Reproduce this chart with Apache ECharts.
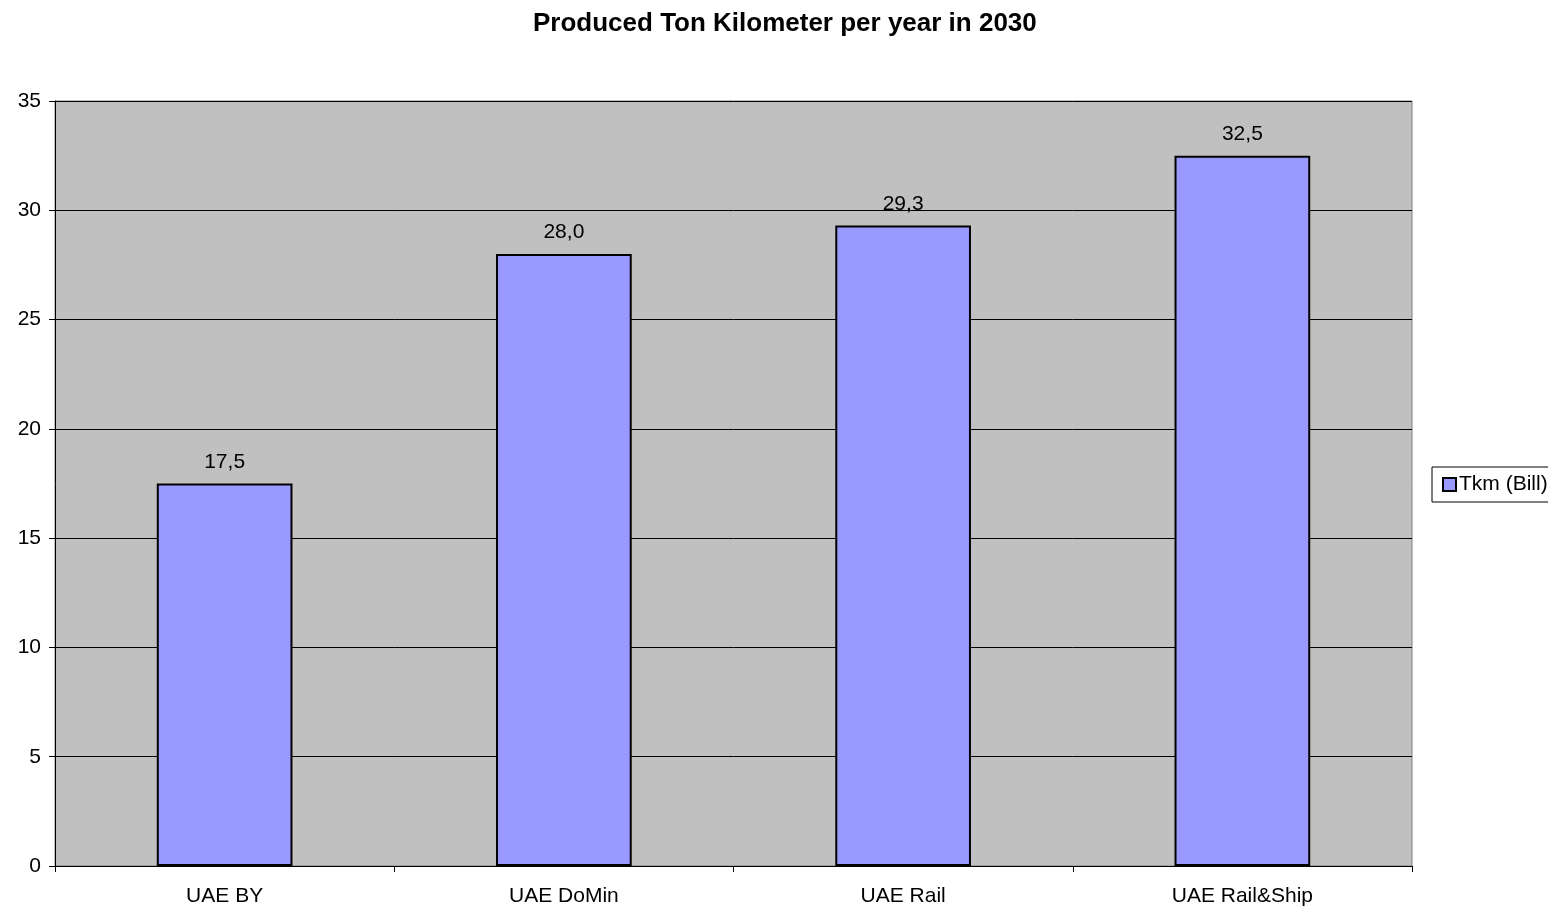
<!DOCTYPE html>
<html>
<head>
<meta charset="utf-8">
<script src="https://cdn.jsdelivr.net/npm/echarts@6/dist/echarts.min.js"></script>
<style>
  html, body { margin: 0; padding: 0; background: #ffffff; }
  #chart { width: 1548px; height: 911px; }
</style>
</head>
<body>
<div id="chart"></div>
<script>
// Produced ton-kilometres per scenario, billions
const categories = ['UAE BY', 'UAE DoMin', 'UAE Rail', 'UAE Rail&Ship'];
const tkmValues = [17.5, 28.0, 29.3, 32.5];
const seriesName = 'Tkm (Bill)';
const yTicks = { min: 0, max: 35, interval: 5 };

const FONT = '"Liberation Sans", Arial, sans-serif';
const chart = echarts.init(document.getElementById('chart'), null, { renderer: 'canvas' });

chart.setOption({
  animation: false,
  backgroundColor: '#ffffff',
  title: {
    text: 'Produced Ton Kilometer per year in 2030',
    left: 528,
    top: 6,
    textStyle: { fontFamily: FONT, fontSize: 26, fontWeight: 'bold', color: '#000' }
  },
  legend: {
    data: [seriesName],
    left: 1432,
    top: 467,
    orient: 'vertical',
    padding: [7, 12, 7, 10],
    borderColor: '#000',
    borderWidth: 1,
    backgroundColor: '#fff',
    itemWidth: 13,
    itemHeight: 13,
    itemGap: 4,
    icon: 'rect',
    textStyle: { fontFamily: FONT, fontSize: 21, color: '#000', padding: [0, 0, 0, -2] }
  },
  grid: {
    left: 55,
    right: 136,
    top: 101,
    bottom: 45,
    show: true,
    backgroundColor: '#c0c0c0',
    borderColor: '#808080',
    borderWidth: 1
  },
  xAxis: {
    type: 'category',
    data: categories,
    axisLine: { lineStyle: { color: '#000', width: 1 } },
    axisTick: { show: true, length: 6, lineStyle: { color: '#000' } },
    axisLabel: { fontFamily: FONT, fontSize: 21, color: '#000', margin: 20 }
  },
  yAxis: {
    type: 'value',
    min: yTicks.min,
    max: yTicks.max,
    interval: yTicks.interval,
    axisLine: { show: true, lineStyle: { color: '#000', width: 1 } },
    axisTick: { show: true, length: 6, lineStyle: { color: '#000' } },
    axisLabel: { fontFamily: FONT, fontSize: 21, color: '#000', margin: 14 },
    splitLine: { show: true, lineStyle: { color: '#000', width: 1 } }
  },
  series: [{
    name: seriesName,
    type: 'bar',
    data: tkmValues,
    barWidth: '40%',
    itemStyle: { color: '#9999ff', borderColor: '#000', borderWidth: 2 },
    label: {
      show: true,
      position: 'top',
      distance: 11,
      fontFamily: FONT,
      fontSize: 21,
      color: '#000',
      formatter: p => p.value.toFixed(1).replace('.', ',')
    }
  }]
});
</script>
</body>
</html>
